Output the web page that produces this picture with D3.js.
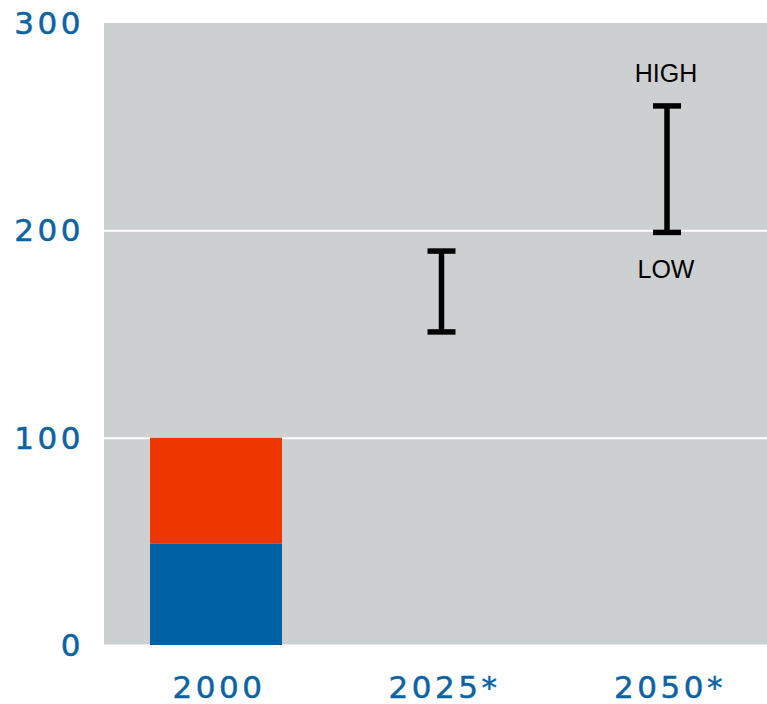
<!DOCTYPE html>
<html>
<head>
<meta charset="utf-8">
<script src="https://cdn.jsdelivr.net/npm/d3@7"></script>
<style>
  html, body { margin: 0; padding: 0; background: #fff; }
  svg { display: block; }
  .lbl { font: 31px "DejaVu Sans", sans-serif; letter-spacing: 3.5px; stroke-width: 0.5px; }
</style>
</head>
<body>
<div id="chart"></div>
<script>
// categories along the bottom
const years = ['2000', '2025*', '2050*'];

// stacked bar for 2000 (bottom segment, top segment)
const stackedYear = '2000';
const stackParts = ['lower', 'upper'];
const stackValues = [49, 51];

// low/high range for the projections
const rangeYears = ['2025*', '2050*'];
const rangeLow = [151, 199];
const rangeHigh = [190, 260];

const yTicks = [0, 100, 200, 300];

const width = 767,
  height = 704;

const plot = {left: 104, right: 767, top: 23, bottom: 645};

let colors = {
  bg: '#cdd0d1',
  grid: '#ffffff',
  blue: '#0062a5',
  red: '#ee3700',
  tick: '#0a63a3',
  ink: '#000000'
};

const svg = d3.select('#chart').append('svg')
  .attr('width', width)
  .attr('height', height);

const x = d3.scaleBand()
  .domain(years)
  .range([plot.left, 779])
  .paddingInner(0.4146)
  .paddingOuter(0.204);

const y = d3.scaleLinear()
  .domain([0, 300])
  .range([plot.bottom, plot.top]);

// grey panel
svg.append('rect')
  .attr('x', plot.left)
  .attr('y', plot.top)
  .attr('width', plot.right - plot.left)
  .attr('height', plot.bottom - plot.top)
  .attr('fill', colors.bg);

// gridlines
svg.selectAll('.grid')
  .data(yTicks.filter(d => d < 300))
  .enter()
  .append('line')
  .attr('x1', plot.left)
  .attr('x2', plot.right)
  .attr('y1', d => y(d) + 0.5)
  .attr('y2', d => y(d) + 0.5)
  .attr('stroke', colors.grid)
  .attr('stroke-width', 2);

// stacked bar
let stackData = [{}];
stackParts.forEach((k, i) => stackData[0][k] = stackValues[i]);
const series = d3.stack().keys(stackParts)(stackData);
const stackColor = d3.scaleOrdinal().domain(stackParts).range([colors.blue, colors.red]);

svg.selectAll('.seg')
  .data(series)
  .enter()
  .append('rect')
  .attr('x', x(stackedYear))
  .attr('width', x.bandwidth())
  .attr('y', d => y(d[0][1]))
  .attr('height', d => y(d[0][0]) - y(d[0][1]))
  .attr('fill', d => stackColor(d.key));

// range bars
const ranges = rangeYears.map((yr, i) => ({year: yr, low: rangeLow[i], high: rangeHigh[i]}));
const capW = 28;
const g = svg.selectAll('.range')
  .data(ranges)
  .enter()
  .append('g')
  .attr('stroke', colors.ink)
  .attr('stroke-width', 5.5);

g.append('line')
  .attr('x1', d => x(d.year) + x.bandwidth() / 2)
  .attr('x2', d => x(d.year) + x.bandwidth() / 2)
  .attr('y1', d => y(d.high))
  .attr('y2', d => y(d.low));

['low', 'high'].forEach(k => {
  g.append('line')
    .attr('x1', d => x(d.year) + x.bandwidth() / 2 - capW / 2)
    .attr('x2', d => x(d.year) + x.bandwidth() / 2 + capW / 2)
    .attr('y1', d => y(d[k]))
    .attr('y2', d => y(d[k]));
});

// HIGH / LOW labels on the last range
const last = ranges[ranges.length - 1];
const lx = x(last.year) + x.bandwidth() / 2;
svg.append('text')
  .attr('x', lx - 1)
  .attr('y', y(last.high) - 33)
  .attr('text-anchor', 'middle')
  .attr('dominant-baseline', 'central')
  .style('font', '25px "Liberation Sans", Arial, sans-serif')
  .text('HIGH');
svg.append('text')
  .attr('x', lx - 1)
  .attr('y', y(last.low) + 37)
  .attr('text-anchor', 'middle')
  .attr('dominant-baseline', 'central')
  .style('font', '25px "Liberation Sans", Arial, sans-serif')
  .text('LOW');

// y tick labels
svg.selectAll('.ytick')
  .data(yTicks)
  .enter()
  .append('text')
  .attr('class', 'lbl')
  .attr('x', 84)
  .attr('y', d => y(d))
  .attr('text-anchor', 'end')
  .attr('dominant-baseline', 'central')
  .attr('fill', colors.tick)
  .attr('stroke', colors.tick)
  .text(d => d);

// x labels
svg.selectAll('.xtick')
  .data(years)
  .enter()
  .append('text')
  .attr('class', 'lbl')
  .attr('x', d => x(d) + x.bandwidth() / 2 + 3)
  .attr('y', 687)
  .attr('text-anchor', 'middle')
  .attr('dominant-baseline', 'central')
  .attr('fill', colors.tick)
  .attr('stroke', colors.tick)
  .text(d => d);
</script>
</body>
</html>
